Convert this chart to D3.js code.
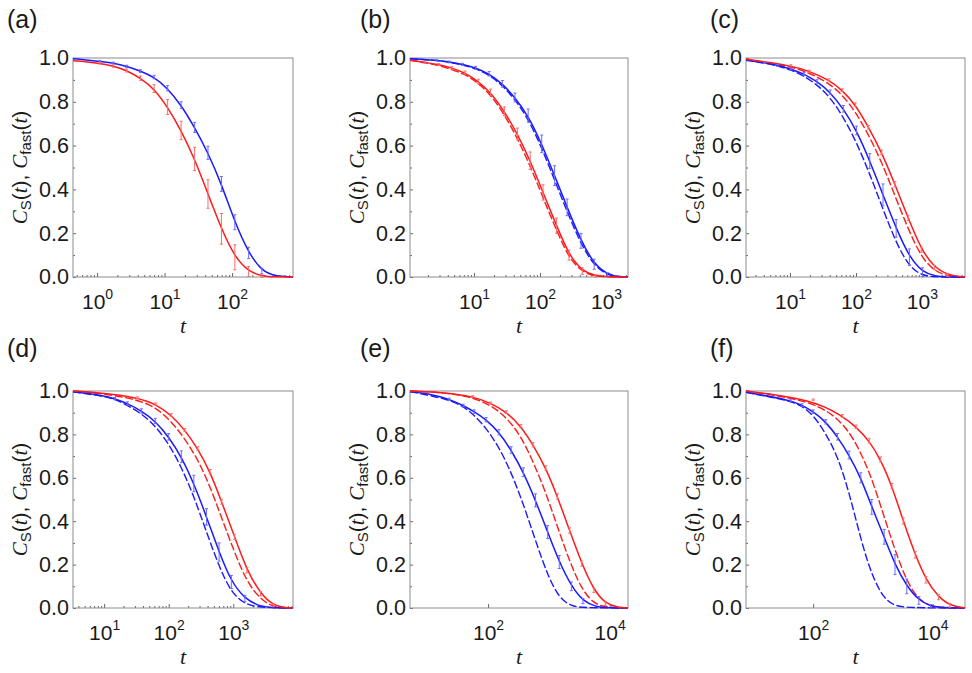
<!DOCTYPE html>
<html>
<head>
<meta charset="utf-8">
<script src="https://cdn.jsdelivr.net/npm/d3@7"></script>
<style>
  body { margin: 0; background: #fff; }
  svg text { font-family: "Liberation Sans", Arial, sans-serif; fill: #1a1a1a; }
  .frame { fill: none; stroke: #8c8c8c; stroke-width: 1; }
  .tick line { stroke: #666; }
  .serif { font-family: "Liberation Serif", "Times New Roman", serif; font-style: italic; }
</style>
</head>
<body>
<svg id="fig" width="972" height="673"></svg>
<script>
// values: solid series are [t, C, error], dashed series are [t, C]
const aBlue = [[0.44,0.997,0],[1.1,0.985,0.004],[1.74,0.977,0.004],[2.75,0.962,0.005],[4.4,0.94,0.006],[7.0,0.913,0.008],[11.1,0.862,0.012],[17.6,0.785,0.015],[27.9,0.683,0.023],[44,0.567,0.03],[69.6,0.425,0.034],[110,0.25,0.034],[176,0.11,0.026],[276,0.027,0.013],[437,0.003,0],[800,0,0]];
const aRed = [[0.44,0.988,0],[1.1,0.977,0.004],[1.74,0.963,0.005],[2.75,0.943,0.007],[4.4,0.908,0.01],[7.0,0.86,0.018],[11.1,0.776,0.034],[17.6,0.669,0.042],[27.9,0.539,0.053],[44,0.379,0.065],[69.6,0.22,0.07],[110,0.09,0.057],[176,0.025,0.023],[276,0.004,0.006],[437,0,0],[800,0,0]];

const bBlue = [[1.07,0.997,0],[2.7,0.99,0.003],[4.2,0.982,0.004],[6.7,0.971,0.005],[10.6,0.955,0.007],[16.9,0.928,0.01],[26.9,0.882,0.015],[41.7,0.82,0.02],[66,0.737,0.03],[106,0.608,0.04],[166,0.463,0.045],[257,0.318,0.038],[417,0.165,0.034],[661,0.058,0.023],[1047,0.012,0.008],[1585,0.001,0],[2150,0,0]];
const bBlueDash = [[1.07,0.997],[2.7,0.989],[4.2,0.981],[6.7,0.969],[10.6,0.952],[16.9,0.923],[26.9,0.875],[41.7,0.81],[66,0.723],[106,0.59],[166,0.443],[257,0.298],[417,0.15],[661,0.05],[1047,0.009],[1585,0.001],[2150,0]];
const bRed = [[1.07,0.99,0],[1.8,0.98,0.003],[2.9,0.97,0.004],[4.6,0.955,0.005],[7.3,0.933,0.007],[11.6,0.893,0.01],[17.8,0.843,0.015],[28.8,0.757,0.02],[45.4,0.653,0.027],[70.8,0.531,0.04],[111,0.386,0.035],[178,0.234,0.035],[275,0.1,0.023],[437,0.027,0.015],[692,0.005,0.005],[1100,0,0],[2150,0,0]];
const bRedDash = [[1.07,0.99],[2.9,0.968],[7.3,0.928],[11.6,0.885],[17.8,0.833],[28.8,0.742],[45.4,0.633],[70.8,0.508],[111,0.362],[178,0.212],[275,0.085],[437,0.022],[692,0.004],[1100,0],[2150,0]];

const cBlue = [[2.15,0.99,0],[4.1,0.978,0.003],[6.5,0.966,0.004],[10.3,0.95,0.005],[16.3,0.927,0.006],[25.7,0.893,0.008],[40.7,0.844,0.01],[64.6,0.768,0.015],[102,0.669,0.02],[162,0.53,0.034],[257,0.375,0.05],[407,0.222,0.04],[646,0.09,0.038],[1023,0.022,0.02],[1585,0.003,0],[2500,0,0],[4500,0,0]];
const cBlueDash = [[2.15,0.99],[4.1,0.977],[6.5,0.964],[10.3,0.946],[16.3,0.918],[25.7,0.878],[40.7,0.82],[64.6,0.73],[102,0.615],[162,0.47],[257,0.31],[407,0.155],[646,0.045],[1023,0.006],[1585,0],[4500,0]];
const cRed = [[2.15,0.994,0],[10.3,0.966,0.003],[19.5,0.94,0.004],[39,0.9,0.005],[62,0.853,0.006],[98,0.787,0.008],[155,0.684,0.008],[245,0.57,0.01],[389,0.424,0.012],[617,0.27,0.012],[977,0.125,0.012],[1549,0.043,0.01],[2455,0.009,0.006],[4500,0,0]];
const cRedDash = [[2.15,0.993],[10.3,0.962],[19.5,0.932],[39,0.885],[62,0.832],[98,0.755],[155,0.65],[245,0.525],[389,0.372],[617,0.22],[977,0.09],[1549,0.027],[2455,0.004],[4500,0]];

const dBlue = [[3.3,0.997,0],[10,0.978,0],[14.5,0.965,0.005],[23,0.943,0.007],[38,0.908,0.01],[62,0.862,0.012],[100,0.789,0.015],[157,0.697,0.027],[245,0.574,0.038],[385,0.42,0.038],[603,0.258,0.042],[933,0.12,0.03],[1514,0.043,0.015],[2454,0.009,0],[3980,0.001,0],[8400,0,0]];
const dBlueDash = [[3.3,0.996],[10,0.976],[14.5,0.962],[23,0.935],[38,0.895],[62,0.84],[100,0.757],[157,0.65],[245,0.515],[385,0.35],[603,0.19],[933,0.07],[1514,0.018],[2454,0.002],[8400,0]];
const dRed = [[3.3,1.0,0],[10,0.99,0],[33,0.969,0.004],[63,0.94,0.005],[110,0.889,0.006],[178,0.82,0.007],[282,0.735,0.008],[437,0.628,0.01],[661,0.489,0.01],[1047,0.328,0.012],[1622,0.174,0.012],[2630,0.066,0.01],[4169,0.012,0.006],[6300,0.001,0],[8400,0,0]];
const dRedDash = [[3.3,1.0],[10,0.988],[33,0.96],[63,0.925],[110,0.86],[178,0.78],[282,0.685],[437,0.56],[661,0.415],[1047,0.255],[1622,0.12],[2630,0.04],[4169,0.005],[6300,0],[8400,0]];

const eBlue = [[5.2,0.997,0],[10,0.99,0],[23,0.963,0.004],[39,0.933,0.006],[59,0.905,0.008],[93,0.868,0.01],[151,0.81,0.012],[240,0.728,0.015],[380,0.626,0.02],[603,0.496,0.03],[955,0.35,0.03],[1480,0.212,0.03],[2344,0.1,0.02],[3630,0.032,0.012],[5900,0.005,0],[10000,0,0],[20000,0,0]];
const eBlueDash = [[5.2,0.997],[23,0.962],[39,0.928],[59,0.89],[93,0.828],[151,0.742],[240,0.625],[380,0.48],[603,0.31],[955,0.15],[1480,0.045],[2344,0.008],[3630,0.001],[20000,0]];
const eRed = [[5.2,1.0,0],[20,0.993,0],[56,0.975,0.003],[110,0.945,0.004],[200,0.903,0.006],[347,0.838,0.008],[550,0.752,0.01],[891,0.645,0.01],[1380,0.514,0.012],[2188,0.357,0.012],[3467,0.205,0.012],[5500,0.082,0.01],[8500,0.02,0.008],[14000,0.002,0],[20000,0,0]];
const eRedDash = [[5.2,1.0],[20,0.993],[56,0.97],[110,0.935],[200,0.88],[347,0.792],[550,0.675],[891,0.532],[1380,0.375],[2188,0.215],[3467,0.085],[5500,0.02],[8500,0.003],[20000,0]];

const fBlue = [[7.5,0.994,0],[42,0.958,0.005],[65,0.935,0.006],[100,0.905,0.008],[163,0.858,0.01],[256,0.789,0.015],[400,0.705,0.018],[630,0.6,0.023],[960,0.466,0.034],[1550,0.328,0.034],[2350,0.2,0.046],[3700,0.1,0.034],[5900,0.035,0.018],[9300,0.008,0.008],[14800,0.001,0],[35000,0,0]];
const fBlueDash = [[7.5,0.994],[42,0.955],[65,0.93],[100,0.89],[163,0.805],[256,0.7],[400,0.535],[630,0.315],[960,0.15],[1550,0.04],[2350,0.01],[3700,0.001],[35000,0]];
const fRed = [[7.5,1.0,0],[100,0.96,0.003],[309,0.885,0.006],[525,0.835,0.008],[871,0.77,0.01],[1350,0.684,0.012],[2090,0.562,0.012],[3236,0.401,0.014],[5130,0.245,0.015],[7760,0.13,0.015],[12600,0.05,0.012],[19500,0.012,0.008],[35000,0,0]];
const fRedDash = [[7.5,1.0],[100,0.955],[309,0.86],[550,0.75],[871,0.628],[1290,0.49],[1860,0.351],[2950,0.19],[4570,0.075],[7240,0.02],[11000,0.003],[35000,0]];

const yMajor = [0, 0.2, 0.4, 0.6, 0.8, 1.0];
const yMinor = [0.1, 0.3, 0.5, 0.7, 0.9];

const panels = [
  {letter: "(a)", blue: aBlue, blueDash: null, red: aRed, redDash: null, domain: [0.44, 800], majors: [1, 10, 100], minor: true},
  {letter: "(b)", blue: bBlue, blueDash: bBlueDash, red: bRed, redDash: bRedDash, domain: [1.07, 2150], majors: [10, 100, 1000], minor: true},
  {letter: "(c)", blue: cBlue, blueDash: cBlueDash, red: cRed, redDash: cRedDash, domain: [2.15, 4500], majors: [10, 100, 1000], minor: true},
  {letter: "(d)", blue: dBlue, blueDash: dBlueDash, red: dRed, redDash: dRedDash, domain: [3.3, 8400], majors: [10, 100, 1000], minor: true},
  {letter: "(e)", blue: eBlue, blueDash: eBlueDash, red: eRed, redDash: eRedDash, domain: [5.2, 20000], majors: [100, 10000], minor: false},
  {letter: "(f)", blue: fBlue, blueDash: fBlueDash, red: fRed, redDash: fRedDash, domain: [7.5, 35000], majors: [100, 10000], minor: false}
];

// page layout
const cols = [[73, 293], [410, 628], [746, 965]];
const rows = [[58, 277], [391, 608]];
const letterX = [7, 360, 710];
const letterY = [28, 357];

const BLUE = "#1a1aff", RED = "#ff1a1a";
const BLUE_BAR = "#6b6bff", RED_BAR = "#ff6b6b";

const svg = d3.select("#fig");

function drawPanel(p, i) {
  const col = cols[i % 3], row = rows[Math.floor(i / 3)];
  const x = d3.scaleLog().domain(p.domain).range(col);
  const y = d3.scaleLinear().domain([0, 1]).range([row[1], row[0]]);
  const g = svg.append("g");

  const clipId = "clip" + i;
  g.append("clipPath").attr("id", clipId)
    .append("rect")
    .attr("x", col[0]).attr("y", row[0] - 1)
    .attr("width", col[1] - col[0]).attr("height", row[1] - row[0] + 2);

  // y axis, major then minor ticks
  const ya = g.append("g")
    .attr("transform", `translate(${col[0]},0)`)
    .call(d3.axisLeft(y).tickValues(yMajor).tickFormat(d3.format(".1f"))
      .tickSizeInner(-3).tickSizeOuter(0).tickPadding(4));
  ya.attr("font-size", 21.5).attr("font-family", null);
  ya.select(".domain").remove();

  g.append("g")
    .attr("transform", `translate(${col[0]},0)`)
    .call(d3.axisLeft(y).tickValues(yMinor).tickFormat("").tickSizeInner(-2).tickSizeOuter(0))
    .select(".domain").remove();

  // x axis
  const xa = g.append("g")
    .attr("transform", `translate(0,${row[1]})`)
    .call(d3.axisBottom(x).tickValues(p.majors).tickSizeInner(-4).tickSizeOuter(0));
  xa.attr("font-size", 21).attr("font-family", null);
  xa.select(".domain").remove();
  xa.selectAll(".tick text").each(function(d) {
    const t = d3.select(this);
    t.attr("y", 32).attr("dy", null).text("10");
    t.append("tspan").attr("font-size", 14).attr("dy", -10)
      .text(Math.round(Math.log10(d)));
  });

  if (p.minor) {
    const lo = Math.floor(Math.log10(p.domain[0])), hi = Math.ceil(Math.log10(p.domain[1]));
    const minors = [];
    for (let e = lo; e < hi; e++) {
      for (let k = 2; k <= 9; k++) {
        const v = k * Math.pow(10, e);
        if (v > p.domain[0] && v < p.domain[1]) minors.push(v);
      }
    }
    g.append("g")
      .attr("transform", `translate(0,${row[1]})`)
      .call(d3.axisBottom(x).tickValues(minors).tickFormat("").tickSizeInner(-2).tickSizeOuter(0))
      .select(".domain").remove();
  }

  // frame
  g.append("rect").attr("class", "frame")
    .attr("x", col[0]).attr("y", row[0])
    .attr("width", col[1] - col[0]).attr("height", row[1] - row[0]);

  const line = d3.line()
    .x(d => x(d[0]))
    .y(d => y(d[1]))
    .curve(d3.curveBasis);

  const plot = g.append("g").attr("clip-path", `url(#${clipId})`);

  [[p.blueDash, BLUE], [p.redDash, RED]].forEach(([s, c]) => {
    if (!s) return;
    plot.append("path").attr("d", line(s))
      .attr("fill", "none").attr("stroke", c)
      .attr("stroke-width", 1.4).attr("stroke-dasharray", "8,2.5");
  });
  [[p.blue, BLUE], [p.red, RED]].forEach(([s, c]) => {
    plot.append("path").attr("d", line(s))
      .attr("fill", "none").attr("stroke", c).attr("stroke-width", 1.5);
  });

  // error bars on the solid series
  [[p.blue, BLUE_BAR], [p.red, RED_BAR]].forEach(([s, c]) => {
    const bars = plot.append("g").attr("stroke", c).attr("stroke-width", 1);
    s.filter(d => d[2] > 0).forEach(d => {
      const cx = x(d[0]), y0 = y(d[1] - d[2]), y1 = y(d[1] + d[2]);
      bars.append("line").attr("x1", cx).attr("x2", cx).attr("y1", y0).attr("y2", y1);
      bars.append("line").attr("x1", cx - 1.5).attr("x2", cx + 1.5).attr("y1", y0).attr("y2", y0);
      bars.append("line").attr("x1", cx - 1.5).attr("x2", cx + 1.5).attr("y1", y1).attr("y2", y1);
    });
  });

  // axis titles
  const yl = g.append("text")
    .attr("transform", `translate(${col[0] - 46},${(row[0] + row[1]) / 2}) rotate(-90)`)
    .attr("text-anchor", "middle")
    .attr("font-size", 21);
  yl.append("tspan").attr("class", "serif").text("C");
  yl.append("tspan").attr("font-size", 15).attr("dy", 4).text("S");
  yl.append("tspan").attr("dy", -4).text("(");
  yl.append("tspan").attr("class", "serif").text("t");
  yl.append("tspan").text("), ");
  yl.append("tspan").attr("class", "serif").text("C");
  yl.append("tspan").attr("font-size", 15).attr("dy", 4).text("fast");
  yl.append("tspan").attr("dy", -4).text("(");
  yl.append("tspan").attr("class", "serif").text("t");
  yl.append("tspan").text(")");

  g.append("text").attr("class", "serif")
    .attr("x", (col[0] + col[1]) / 2).attr("y", row[1] + 56)
    .attr("text-anchor", "middle").attr("font-size", 22)
    .text("t");

  g.append("text")
    .attr("x", letterX[i % 3]).attr("y", letterY[Math.floor(i / 3)])
    .attr("font-size", 25)
    .text(p.letter);
}

panels.forEach(drawPanel);
</script>
</body>
</html>
